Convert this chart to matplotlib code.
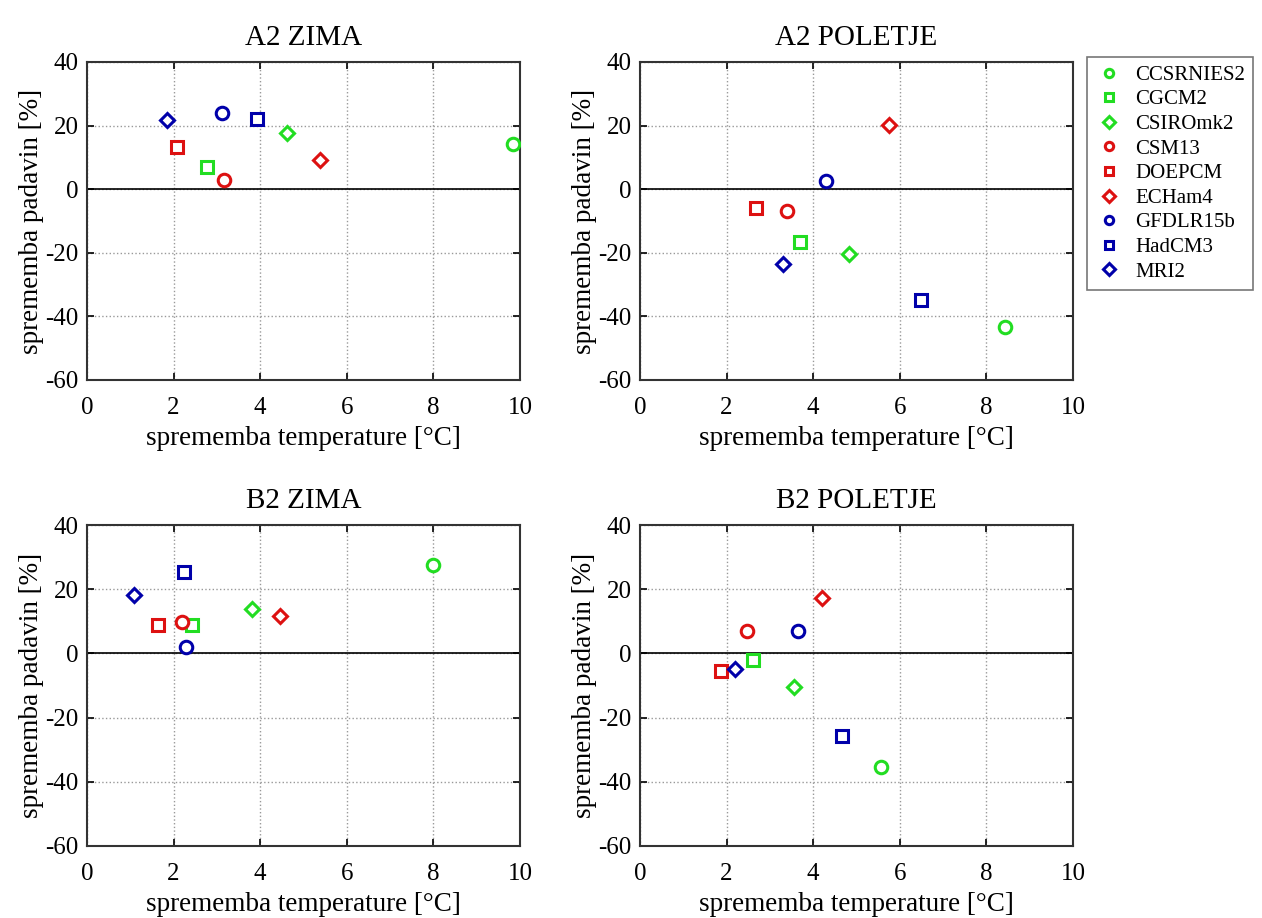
import numpy as np
import matplotlib.pyplot as plt

plt.rcParams['font.family'] = ['Liberation Serif', 'DejaVu Serif']
plt.rcParams['axes.unicode_minus'] = False

# models and their styles
models = ['CCSRNIES2', 'CGCM2', 'CSIROmk2', 'CSM13', 'DOEPCM', 'ECHam4',
          'GFDLR15b', 'HadCM3', 'MRI2']
colors = ['#22dd22', '#22dd22', '#22dd22', '#dd1111', '#dd1111', '#dd1111',
          '#0000aa', '#0000aa', '#0000aa']
markers = ['o', 's', 'D', 'o', 's', 'D', 'o', 's', 'D']

# temperature change [°C] and precipitation change [%], per model
a2_zima_t = [9.83, 2.76, 4.61, 3.17, 2.09, 5.39, 3.11, 3.92, 1.85]
a2_zima_p = [14.3, 7.0, 17.7, 3.0, 13.3, 9.1, 24.1, 22.2, 21.7]

a2_pol_t = [8.42, 3.69, 4.83, 3.40, 2.69, 5.75, 4.30, 6.50, 3.30]
a2_pol_p = [-43.4, -16.6, -20.3, -6.9, -6.0, 20.3, 2.7, -34.8, -23.6]

b2_zima_t = [8.0, 2.42, 3.80, 2.19, 1.64, 4.45, 2.28, 2.24, 1.08]
b2_zima_p = [27.4, 9.0, 13.8, 9.7, 8.7, 11.6, 2.0, 25.4, 18.3]

b2_pol_t = [5.57, 2.62, 3.56, 2.48, 1.88, 4.21, 3.64, 4.66, 2.19]
b2_pol_p = [-35.4, -2.1, -10.6, 6.9, -5.5, 17.3, 6.9, -25.6, -4.8]

panels = [('A2 ZIMA', a2_zima_t, a2_zima_p),
          ('A2 POLETJE', a2_pol_t, a2_pol_p),
          ('B2 ZIMA', b2_zima_t, b2_zima_p),
          ('B2 POLETJE', b2_pol_t, b2_pol_p)]

W, H = 1262, 918
fig = plt.figure(figsize=(W / 100, H / 100), dpi=100)

# axes boxes in pixels: left, top, right, bottom
boxes = [(87, 62, 520, 380), (640, 62, 1073, 380),
         (87, 525, 520, 846), (640, 525, 1073, 846)]

for (title, tx, py), (l, t, r, b) in zip(panels, boxes):
    ax = fig.add_axes([l / W, 1 - b / H, (r - l) / W, (b - t) / H])
    for i in range(len(models)):
        ax.plot(tx[i], py[i], linestyle='none', marker=markers[i],
                ms=9 if markers[i] != 'D' else 7, mfc='white', mec=colors[i],
                mew=2.2, label=models[i], zorder=3)
    ax.axhline(0, color='black', lw=1.2, zorder=2)
    ax.set_xlim(0, 10)
    ax.set_ylim(-60, 40)
    ax.set_xticks(np.arange(0, 11, 2))
    ax.set_yticks(np.arange(-60, 41, 20))
    ax.grid(True, linestyle=':', color='#999999', lw=1)
    ax.tick_params(direction='in', top=True, right=True, labelsize=18,
                   length=5, width=1.2)
    ax.tick_params(axis='x', pad=12)
    ax.tick_params(axis='y', pad=6)
    for s in ax.spines.values():
        s.set_linewidth(1.5)
        s.set_color('#333333')
    ax.set_title(title, fontsize=21, pad=12)
    ax.set_xlabel('sprememba temperature [°C]', fontsize=19.5, labelpad=5)
    ax.set_ylabel('sprememba padavin [%]', fontsize=19.5, labelpad=1)
    if title == 'A2 POLETJE':
        handles, labels = ax.get_legend_handles_labels()

leg = fig.legend(handles, labels, loc='upper left',
                 bbox_to_anchor=(1087 / W, 1 - 57 / H), fontsize=15,
                 numpoints=1, frameon=True, fancybox=False,
                 handletextpad=0.6, labelspacing=0.24, borderpad=0.4,
                 handlelength=1.3, borderaxespad=0)
leg.get_frame().set_edgecolor('#555555')
leg.get_frame().set_linewidth(1.2)
for h in leg.legend_handles:
    h.set_markersize(6)
    h.set_markeredgewidth(2.2)

fig.savefig('out.png', dpi=100)
